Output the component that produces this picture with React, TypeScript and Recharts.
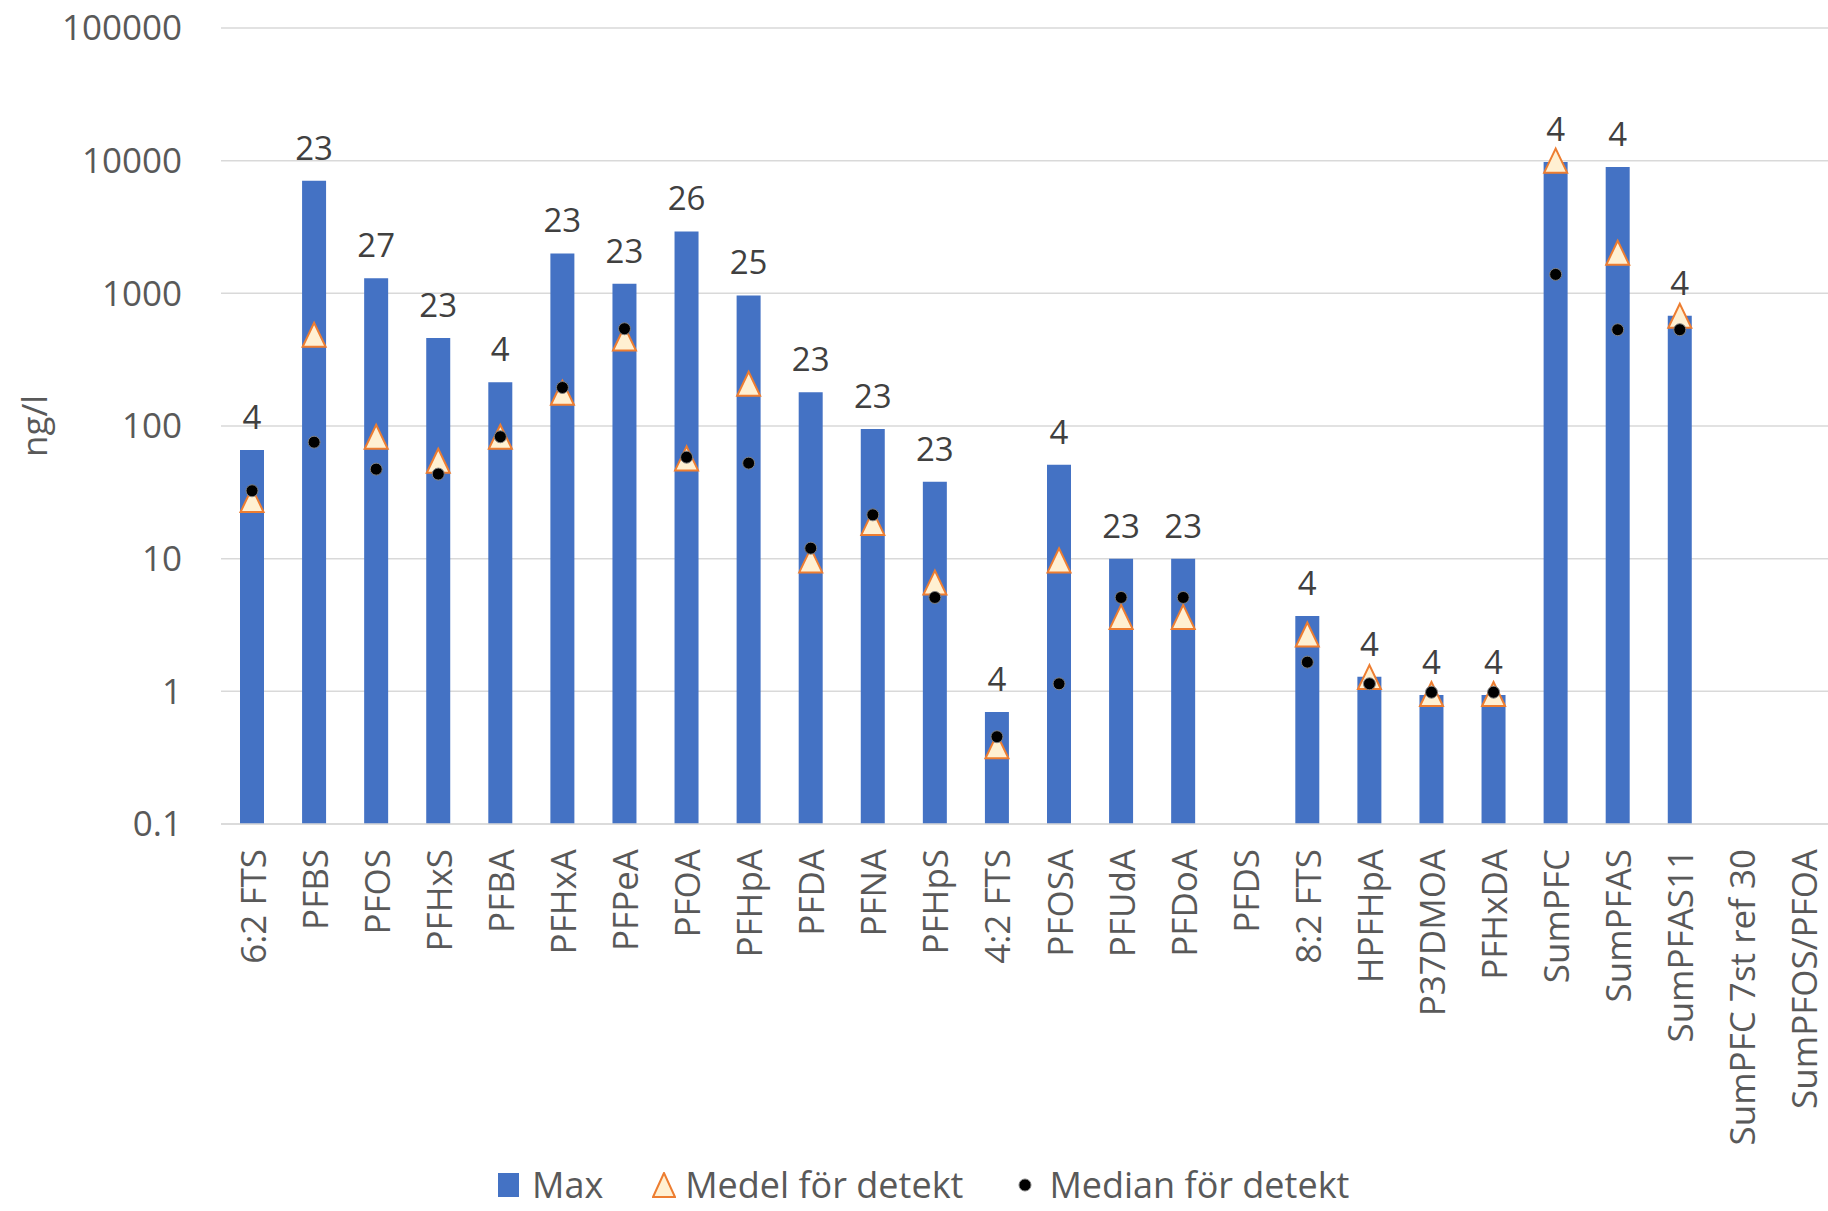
import { ComposedChart, Bar, Line, XAxis, YAxis, CartesianGrid, Legend, LabelList } from 'recharts'

// concentrations in ng/l
const compounds = [
  '6:2 FTS', 'PFBS', 'PFOS', 'PFHxS', 'PFBA', 'PFHxA', 'PFPeA', 'PFOA', 'PFHpA', 'PFDA',
  'PFNA', 'PFHpS', '4:2 FTS', 'PFOSA', 'PFUdA', 'PFDoA', 'PFDS', '8:2 FTS', 'HPFHpA', 'P37DMOA',
  'PFHxDA', 'SumPFC', 'SumPFAS', 'SumPFAS11', 'SumPFC 7st ref 30', 'SumPFOS/PFOA',
]
const maxValues = [
  66, 7060, 1300, 460, 214, 2000, 1180, 2930, 964, 180,
  95, 38, 0.7, 51, 10, 10, null, 3.7, 1.29, 0.94,
  0.94, 9780, 8960, 678, null, null,
]
const medelValues = [
  27.7, 487, 83, 54.7, 83, 178, 457, 57, 208, 9.7,
  18.6, 6.6, 0.385, 9.7, 3.64, 3.64, null, 2.68, 1.28, 0.955,
  0.955, 10000, 2024, 678, null, null,
]
const medianValues = [
  32.5, 75.5, 47.3, 43.4, 83, 195, 541, 58.2, 52.5, 12,
  21.4, 5.1, 0.455, 1.14, 5.1, 5.1, null, 1.66, 1.14, 0.985,
  0.985, 1389, 532, 532, null, null,
]
const detectCounts = [
  4, 23, 27, 23, 4, 23, 23, 26, 25, 23,
  23, 23, 4, 4, 23, 23, null, 4, 4, 4,
  4, 4, 4, 4, null, null,
]
const yTicks = [0.1, 1, 10, 100, 1000, 10000, 100000]

const data = compounds.map((name, i) => ({
  name,
  max: maxValues[i],
  medel: medelValues[i],
  median: medianValues[i],
  n: detectCounts[i],
}))

const FONT = "'Open Sans', sans-serif"
const BLUE = '#4472C4'
const ORANGE = '#ED7D31'
const CREAM = '#FFF0D2'

function TriangleDot(props: any) {
  const { cx, cy, key } = props
  if (cy == null || Number.isNaN(cy)) return <g key={key} />
  return (
    <polygon
      key={key}
      points={`${cx},${cy - 12} ${cx - 11.5},${cy + 12} ${cx + 11.5},${cy + 12}`}
      fill={CREAM}
      stroke={ORANGE}
      strokeWidth={2}
    />
  )
}

function BlackDot(props: any) {
  const { cx, cy, key } = props
  if (cy == null || Number.isNaN(cy)) return <g key={key} />
  return <circle key={key} cx={cx} cy={cy} r={6} fill="#000" stroke="#808080" strokeWidth={1} />
}

function CategoryTick({ x, y, payload }: any) {
  return (
    <text
      x={x}
      y={y}
      transform={`rotate(-90, ${x}, ${y})`}
      textAnchor="end"
      dominantBaseline="central"
      fill="#595959"
      fontSize={35}
      fontFamily={FONT}
    >
      {payload.value}
    </text>
  )
}

function LegendRow({ payload }: any) {
  const items = payload ?? []
  return (
    <div style={{ display: 'flex', alignItems: 'center', height: 30, fontFamily: FONT, fontSize: 36, lineHeight: '30px', color: '#595959' }}>
      {items.map((it: any, i: number) => {
        let icon
        if (it.dataKey === 'max') {
          icon = <div style={{ width: 21, height: 24, background: BLUE, marginRight: 13 }} />
        } else if (it.dataKey === 'medel') {
          icon = (
            <svg width={24} height={26} style={{ marginRight: 9 }}>
              <polygon points="12,1 1,25 23,25" fill={CREAM} stroke={ORANGE} strokeWidth={2} />
            </svg>
          )
        } else {
          icon = (
            <svg width={14} height={14} style={{ marginRight: 17 }}>
              <circle cx={7} cy={7} r={6} fill="#000" stroke="#808080" strokeWidth={1} />
            </svg>
          )
        }
        return (
          <div key={it.dataKey} style={{ display: 'flex', alignItems: 'center', marginRight: i === 0 ? 49 : 55 }}>
            {icon}
            <span style={{ whiteSpace: 'nowrap' }}>{it.value}</span>
          </div>
        )
      })}
    </div>
  )
}

export default function App() {
  return (
    <div style={{ position: 'fixed', left: 0, top: 0, width: 1828, height: 1211, overflow: 'hidden', background: '#fff' }}>
      <ComposedChart
        width={1850}
        height={1211}
        data={data}
        margin={{ top: 28, right: 15, left: 0, bottom: 0 }}
      >
        <CartesianGrid vertical={false} stroke="#D9D9D9" strokeWidth={1.5} />
        <XAxis
          dataKey="name"
          interval={0}
          height={387}
          tickSize={0}
          tickMargin={25}
          tickLine={false}
          axisLine={{ stroke: '#D9D9D9', strokeWidth: 1.5 }}
          tick={<CategoryTick />}
        />
        <YAxis
          scale="log"
          domain={[0.1, 100000]}
          ticks={yTicks}
          allowDataOverflow
          width={221}
          tickSize={0}
          tickMargin={39}
          tickLine={false}
          axisLine={false}
          tick={{ fill: '#595959', fontSize: 35, fontFamily: FONT }}
          tickFormatter={(v: number) => (v < 1 ? String(v) : v.toFixed(0))}
          label={({ viewBox }: any) => {
            const lx = viewBox.x + 33
            const ly = viewBox.y + viewBox.height / 2
            return (
              <text
                x={lx}
                y={ly}
                transform={`rotate(-90, ${lx}, ${ly})`}
                textAnchor="middle"
                dominantBaseline="central"
                fill="#595959"
                fontSize={35}
                fontFamily={FONT}
              >
                ng/l
              </text>
            )
          }}
        />
        <Bar dataKey="max" name="Max" fill={BLUE} barSize={24} isAnimationActive={false}>
          <LabelList dataKey="n" position="top" offset={21} fill="#404040" fontSize={33} fontFamily={FONT} />
        </Bar>
        <Line
          dataKey="medel"
          name="Medel för detekt"
          stroke="none"
          dot={TriangleDot}
          activeDot={false}
          isAnimationActive={false}
        />
        <Line
          dataKey="median"
          name="Median för detekt"
          stroke="none"
          dot={BlackDot}
          activeDot={false}
          isAnimationActive={false}
        />
        <Legend
          layout="horizontal"
          verticalAlign="middle"
          align="center"
          wrapperStyle={{ left: 498, top: 1170, width: 1000, height: 30 }}
          content={<LegendRow />}
        />
      </ComposedChart>
    </div>
  )
}
